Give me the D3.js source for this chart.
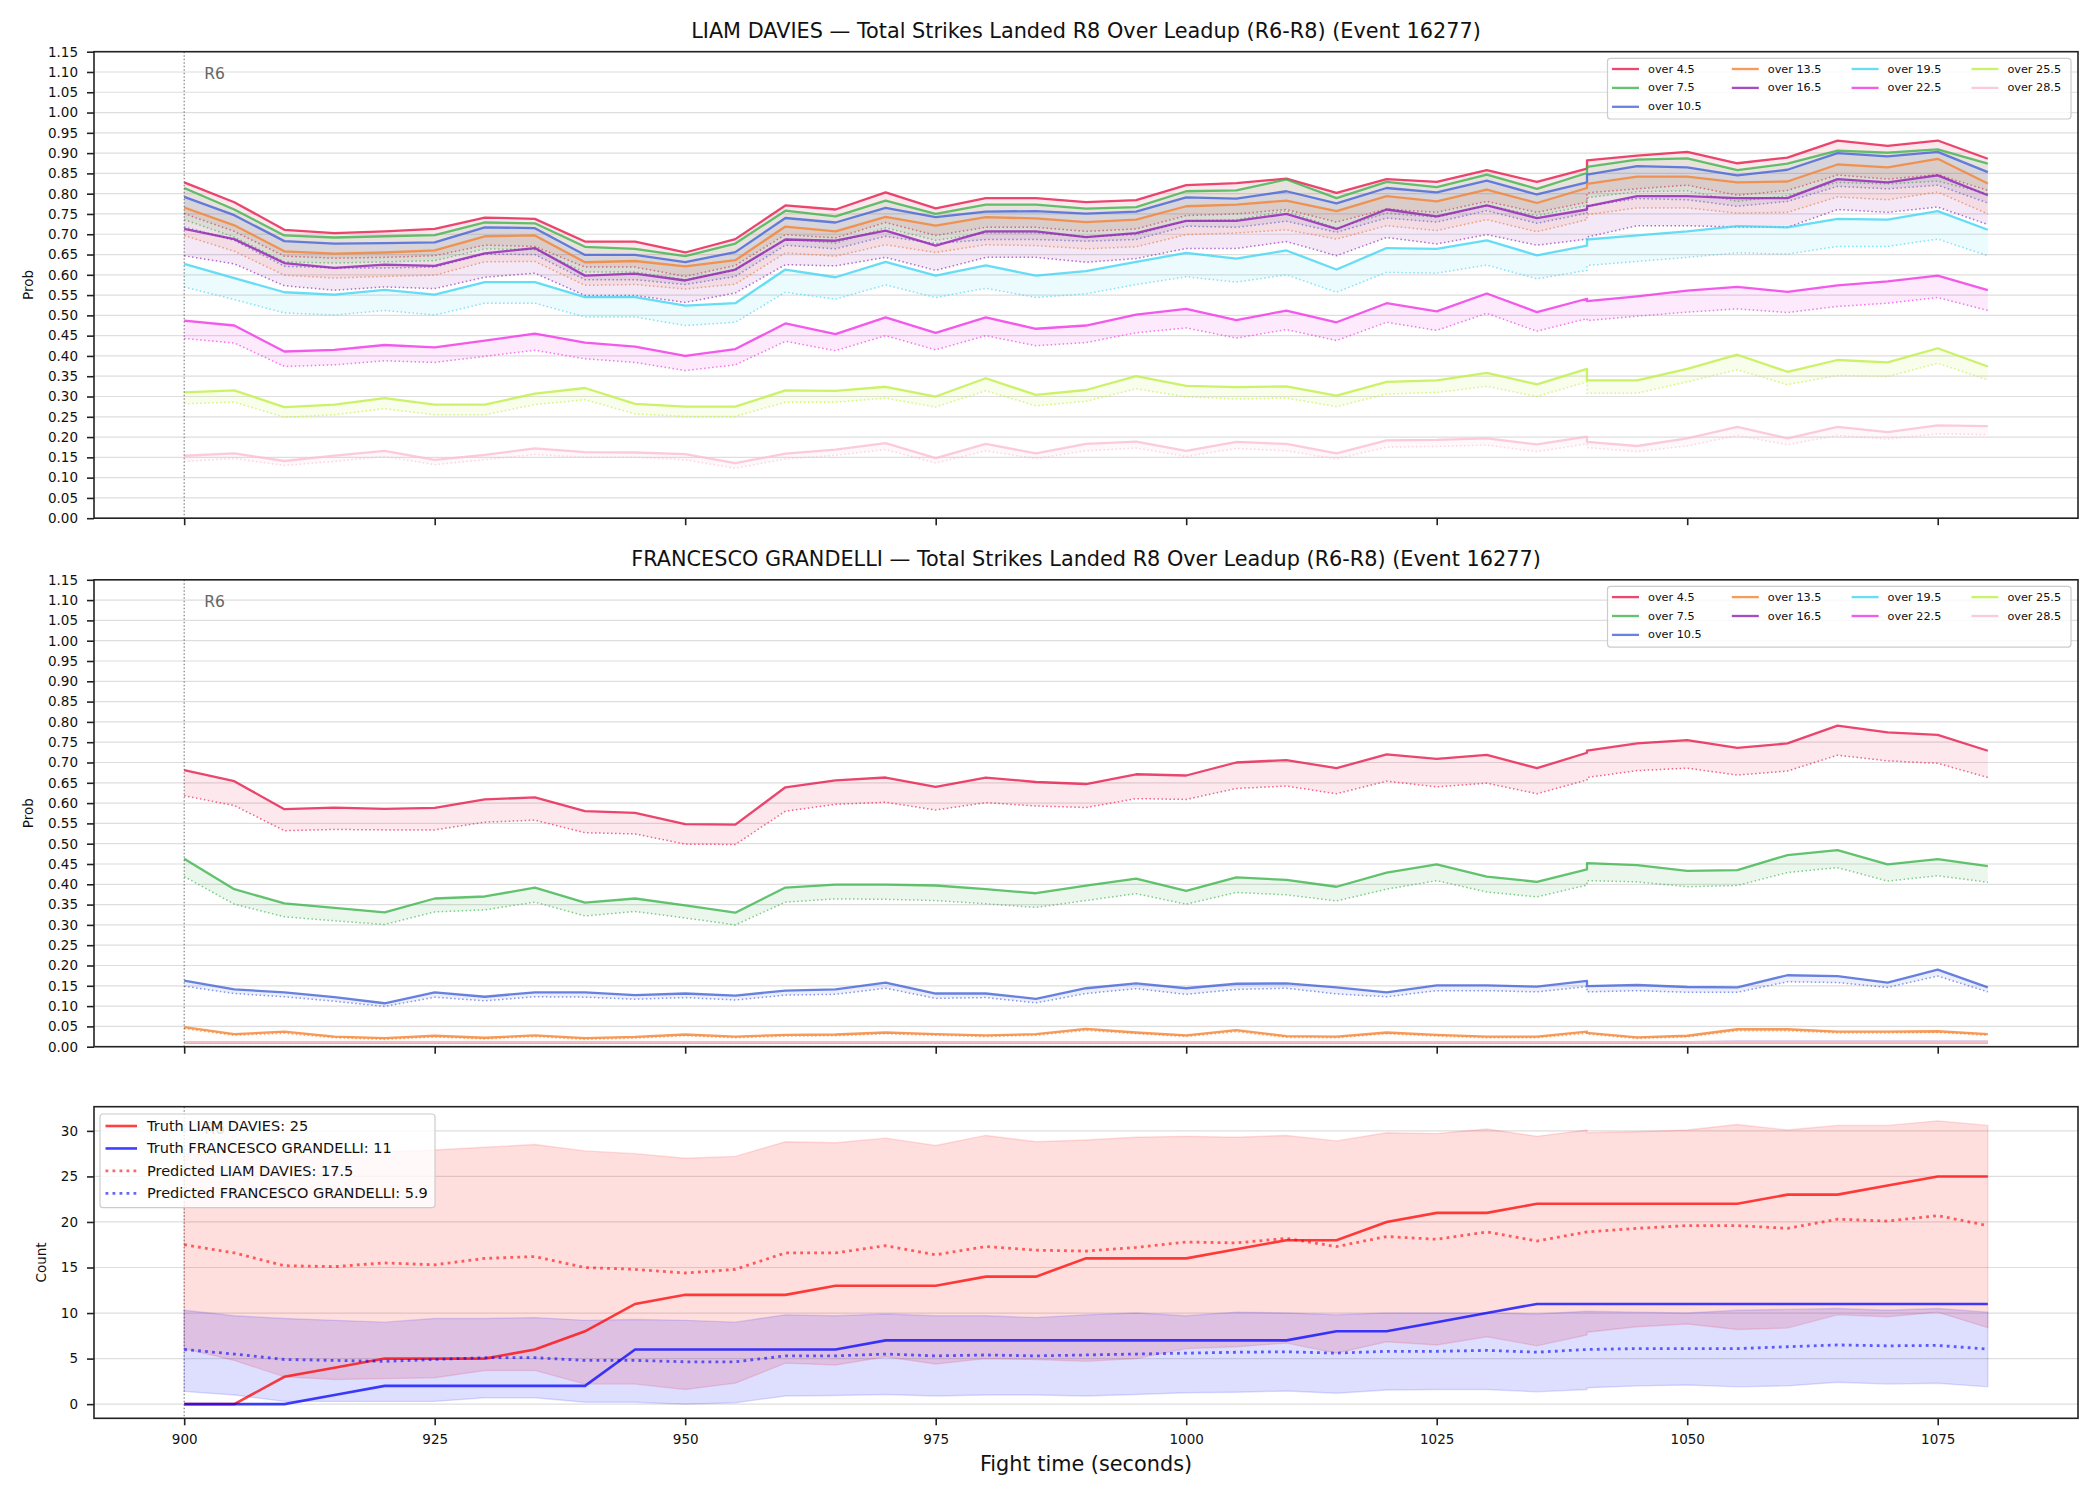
<!DOCTYPE html>
<html>
<head>
<meta charset="utf-8">
<script src="https://cdn.jsdelivr.net/npm/d3@7"></script>
<style>
  body { margin: 0; background: #fff; }
  text { font-family: "DejaVu Sans", sans-serif; }
</style>
</head>
<body>
<div id="chart"></div>
<script>
// Part 0: data
var times = [900,905,910,915,920,925,930,935,940,945,950,955,960,965,970,975,980,985,990,995,
  1000,1005,1010,1015,1020,1025,1030,1035,1040,1040,1045,1050,1055,1060,1065,1070,1075,1080];

var lineLabels = ["over 4.5","over 7.5","over 10.5","over 13.5","over 16.5","over 19.5","over 22.5","over 25.5","over 28.5"];
var lineColors = ["#e6194b","#3cb44b","#4363d8","#f58231","#911eb4","#42d4f4","#f032e6","#bfef45","#fabed4"];

var probTicks = d3.range(0, 24).map(function (i) { return i * 0.05; });
var timeTicks = [900, 925, 950, 975, 1000, 1025, 1050, 1075];
var countTicks = [0, 5, 10, 15, 20, 25, 30];

// LIAM DAVIES, solid lines
var daviesProb = [
  [.828,.779,.711,.703,.707,.713,.741,.738,.682,.682,.655,.688,.771,.761,.803,.764,.789,.789,.779,.784,.821,.826,.837,.802,.836,.829,.858,.829,.862,.882,.894,.903,.875,.889,.931,.918,.931,.886],
  [.814,.761,.697,.692,.695,.698,.729,.727,.669,.664,.646,.677,.758,.744,.783,.750,.773,.773,.763,.767,.806,.808,.835,.789,.829,.816,.847,.812,.851,.866,.884,.887,.858,.874,.906,.901,.909,.874],
  [.792,.747,.683,.677,.678,.680,.717,.715,.649,.649,.631,.656,.740,.729,.765,.742,.756,.757,.751,.756,.791,.788,.806,.776,.814,.803,.832,.798,.828,.847,.868,.865,.845,.859,.900,.892,.903,.853],
  [.766,.722,.658,.652,.655,.660,.695,.697,.631,.634,.621,.636,.719,.707,.743,.721,.742,.739,.730,.736,.769,.773,.783,.757,.794,.781,.810,.777,.814,.824,.842,.842,.828,.830,.872,.865,.886,.825],
  [.713,.688,.629,.617,.625,.622,.653,.666,.598,.603,.586,.613,.687,.684,.709,.672,.707,.707,.693,.703,.733,.733,.750,.713,.761,.744,.771,.740,.761,.769,.794,.794,.789,.789,.836,.828,.845,.796],
  [.627,.592,.557,.551,.563,.551,.582,.582,.545,.545,.524,.530,.613,.594,.632,.598,.623,.598,.609,.632,.654,.640,.660,.613,.666,.664,.685,.648,.672,.687,.697,.707,.720,.717,.738,.736,.757,.711],
  [.487,.475,.411,.415,.427,.421,.438,.455,.433,.423,.400,.417,.480,.454,.495,.457,.495,.467,.475,.502,.516,.488,.512,.483,.530,.510,.554,.508,.541,.535,.547,.561,.570,.558,.574,.584,.598,.562],
  [.310,.315,.274,.280,.296,.280,.280,.307,.321,.282,.275,.275,.315,.314,.324,.300,.345,.304,.316,.350,.326,.323,.325,.302,.336,.340,.358,.330,.368,.340,.340,.368,.403,.361,.390,.384,.419,.374],
  [.154,.160,.141,.154,.166,.144,.156,.172,.163,.162,.158,.136,.159,.169,.185,.148,.183,.160,.183,.189,.166,.188,.183,.160,.192,.193,.197,.182,.201,.188,.178,.197,.225,.197,.225,.212,.229,.227]
];
// LIAM DAVIES, dotted lines
var daviesLow = [
  [.751,.707,.646,.641,.643,.647,.673,.670,.619,.619,.596,.623,.699,.691,.729,.697,.717,.717,.707,.713,.746,.750,.761,.730,.762,.754,.781,.754,.779,.802,.812,.821,.796,.808,.846,.836,.847,.808],
  [.736,.693,.632,.629,.632,.635,.664,.662,.607,.607,.588,.611,.688,.678,.716,.685,.703,.703,.694,.699,.733,.736,.757,.715,.752,.742,.771,.746,.771,.790,.805,.807,.781,.795,.828,.824,.831,.800],
  [.718,.685,.621,.617,.617,.619,.651,.650,.588,.588,.576,.596,.673,.664,.695,.677,.687,.687,.683,.687,.720,.717,.732,.705,.740,.730,.758,.727,.752,.769,.788,.785,.769,.781,.818,.812,.821,.777],
  [.697,.658,.599,.592,.596,.599,.632,.633,.574,.576,.565,.577,.654,.646,.674,.655,.674,.672,.664,.669,.699,.703,.711,.688,.721,.709,.736,.706,.736,.748,.765,.765,.752,.754,.792,.785,.804,.750],
  [.647,.627,.573,.562,.570,.566,.594,.604,.549,.549,.532,.555,.625,.622,.643,.611,.643,.643,.631,.640,.665,.665,.682,.647,.692,.676,.699,.673,.688,.693,.721,.721,.718,.717,.761,.754,.767,.724],
  [.570,.539,.506,.501,.512,.501,.530,.530,.496,.496,.475,.483,.557,.540,.575,.544,.567,.544,.553,.576,.595,.582,.600,.557,.606,.604,.624,.590,.611,.623,.633,.643,.654,.651,.670,.670,.688,.647],
  [.443,.432,.374,.378,.388,.384,.399,.414,.393,.384,.364,.378,.436,.413,.450,.415,.450,.425,.433,.457,.469,.444,.465,.438,.483,.463,.505,.461,.492,.487,.498,.508,.516,.507,.522,.530,.544,.512],
  [.282,.286,.249,.255,.270,.255,.255,.280,.292,.257,.251,.251,.286,.286,.296,.274,.314,.277,.288,.319,.299,.294,.296,.275,.306,.310,.325,.300,.336,.308,.308,.336,.366,.329,.352,.349,.382,.341],
  [.140,.147,.130,.140,.152,.132,.144,.157,.150,.150,.144,.123,.146,.155,.169,.136,.166,.147,.166,.173,.152,.172,.166,.146,.175,.177,.180,.164,.183,.174,.164,.178,.204,.181,.204,.195,.208,.206]
];

// FRANCESCO GRANDELLI, solid lines
var grandelliProb = [
  [.681,.654,.585,.589,.586,.588,.609,.614,.580,.576,.548,.547,.639,.656,.663,.640,.663,.652,.647,.671,.668,.700,.706,.686,.720,.709,.719,.686,.724,.729,.747,.755,.736,.747,.791,.774,.768,.729],
  [.463,.388,.353,.342,.331,.365,.370,.392,.355,.365,.348,.330,.392,.399,.399,.397,.388,.378,.397,.414,.384,.417,.411,.394,.429,.449,.419,.406,.437,.452,.447,.433,.435,.472,.484,.449,.462,.445],
  [.163,.141,.134,.122,.107,.134,.123,.134,.134,.127,.131,.126,.138,.141,.158,.131,.131,.118,.144,.156,.144,.155,.156,.146,.134,.151,.151,.148,.162,.149,.152,.147,.146,.176,.174,.158,.190,.146],
  [.048,.031,.037,.025,.021,.027,.022,.028,.021,.024,.030,.025,.029,.030,.035,.031,.028,.031,.044,.035,.028,.041,.026,.025,.035,.029,.025,.025,.037,.034,.023,.027,.043,.043,.037,.037,.038,.031],
  [.011,.011,.011,.011,.011,.011,.011,.011,.011,.011,.011,.011,.011,.011,.011,.011,.011,.011,.011,.011,.011,.011,.011,.011,.011,.011,.011,.011,.011,.011,.011,.011,.012,.012,.012,.012,.012,.012],
  [.011,.011,.011,.011,.011,.011,.011,.011,.011,.011,.011,.011,.011,.011,.011,.011,.011,.011,.011,.011,.011,.011,.011,.011,.011,.011,.011,.011,.011,.011,.011,.011,.011,.011,.011,.011,.011,.011],
  [.011,.011,.011,.011,.011,.011,.011,.011,.011,.011,.011,.011,.011,.011,.011,.011,.011,.011,.011,.011,.011,.011,.011,.011,.011,.011,.011,.011,.011,.011,.011,.011,.011,.011,.011,.011,.011,.011],
  [.011,.011,.011,.011,.011,.011,.011,.011,.011,.011,.011,.011,.011,.011,.011,.011,.011,.011,.011,.011,.011,.011,.011,.011,.011,.011,.011,.011,.011,.011,.011,.011,.011,.011,.011,.011,.011,.011],
  [.011,.011,.011,.011,.011,.011,.011,.011,.011,.011,.011,.011,.011,.011,.011,.011,.011,.011,.011,.011,.011,.011,.011,.011,.011,.011,.011,.011,.011,.011,.011,.011,.011,.011,.011,.011,.011,.011]
];
// FRANCESCO GRANDELLI, dotted lines
var grandelliLow = [
  [.618,.594,.532,.535,.534,.534,.553,.558,.527,.524,.499,.498,.580,.597,.602,.583,.601,.593,.589,.611,.609,.636,.642,.623,.654,.640,.649,.623,.657,.663,.680,.686,.669,.679,.718,.704,.698,.663],
  [.419,.351,.320,.310,.301,.332,.337,.356,.322,.333,.317,.300,.356,.364,.363,.360,.352,.343,.360,.377,.351,.380,.374,.359,.388,.409,.381,.369,.398,.409,.406,.394,.397,.429,.441,.408,.421,.405],
  [.149,.131,.123,.112,.099,.122,.113,.123,.122,.117,.121,.115,.127,.129,.144,.119,.121,.108,.131,.143,.129,.141,.144,.130,.123,.138,.138,.135,.148,.135,.138,.134,.134,.160,.158,.146,.174,.135],
  [.044,.028,.033,.022,.018,.024,.019,.025,.018,.021,.027,.022,.026,.027,.032,.028,.025,.028,.040,.032,.025,.037,.023,.022,.032,.026,.022,.022,.033,.031,.020,.024,.039,.039,.034,.034,.035,.028],
  [.010,.010,.010,.010,.010,.010,.010,.010,.010,.010,.010,.010,.010,.010,.010,.010,.010,.010,.010,.010,.010,.010,.010,.010,.010,.010,.010,.010,.010,.010,.010,.010,.010,.010,.010,.010,.010,.010],
  [.010,.010,.010,.010,.010,.010,.010,.010,.010,.010,.010,.010,.010,.010,.010,.010,.010,.010,.010,.010,.010,.010,.010,.010,.010,.010,.010,.010,.010,.010,.010,.010,.010,.010,.010,.010,.010,.010],
  [.010,.010,.010,.010,.010,.010,.010,.010,.010,.010,.010,.010,.010,.010,.010,.010,.010,.010,.010,.010,.010,.010,.010,.010,.010,.010,.010,.010,.010,.010,.010,.010,.010,.010,.010,.010,.010,.010],
  [.010,.010,.010,.010,.010,.010,.010,.010,.010,.010,.010,.010,.010,.010,.010,.010,.010,.010,.010,.010,.010,.010,.010,.010,.010,.010,.010,.010,.010,.010,.010,.010,.010,.010,.010,.010,.010,.010],
  [.010,.010,.010,.010,.010,.010,.010,.010,.010,.010,.010,.010,.010,.010,.010,.010,.010,.010,.010,.010,.010,.010,.010,.010,.010,.010,.010,.010,.010,.010,.010,.010,.010,.010,.010,.010,.010,.010]
];

// bottom panel: counts
var truthDavies = [0,0,3,4,5,5,5,6,8,11,12,12,12,13,13,13,14,14,16,16,16,17,18,18,20,21,21,22,22,22,22,22,22,23,23,24,25,25];
var truthGrandelli = [0,0,0,1,2,2,2,2,2,6,6,6,6,6,7,7,7,7,7,7,7,7,7,8,8,9,10,11,11,11,11,11,11,11,11,11,11,11];
var predDavies = [17.5,16.6,15.2,15.1,15.5,15.3,16.0,16.2,15.0,14.8,14.4,14.8,16.6,16.6,17.4,16.4,17.3,16.9,16.8,17.2,17.8,17.7,18.2,17.3,18.4,18.1,18.9,17.9,18.9,18.9,19.3,19.6,19.6,19.3,20.3,20.1,20.7,19.6];
var predGrandelli = [6.0,5.5,4.9,4.8,4.7,4.9,5.1,5.1,4.8,4.8,4.65,4.65,5.3,5.3,5.5,5.3,5.4,5.3,5.4,5.5,5.6,5.7,5.75,5.6,5.8,5.8,5.9,5.7,6.0,6.0,6.1,6.1,6.1,6.3,6.5,6.4,6.45,6.05];
var daviesHigh = [27.5,27.4,27.3,27.5,27.7,27.9,28.2,28.5,27.8,27.5,27.0,27.2,28.8,28.7,29.2,28.4,29.5,28.8,29.0,29.3,29.4,29.3,29.5,28.9,29.8,29.7,30.2,29.4,30.1,29.8,29.9,30.1,30.7,30.1,30.6,30.6,31.1,30.6];
var daviesLowBand = [6.1,4.8,3.0,2.7,2.8,2.9,3.7,3.7,2.2,2.2,1.6,2.3,4.5,4.3,5.2,4.4,5.0,4.9,4.7,5.0,6.1,6.3,6.7,5.6,6.85,6.5,7.4,6.4,7.6,7.9,8.5,8.8,8.2,8.35,9.8,9.6,10.1,8.4];
var grandelliHigh = [10.3,9.7,9.4,9.2,9.0,9.4,9.4,9.5,9.2,9.3,9.2,9.0,9.8,9.7,9.9,9.7,9.7,9.5,9.8,10.0,9.7,10.1,10.0,9.8,10.0,10.0,10.0,9.9,10.2,10.2,10.1,10.0,10.3,10.4,10.5,10.3,10.5,10.1];
var grandelliLowBand = [1.4,1.0,0.3,0.3,0.3,0.3,0.7,0.7,0.2,0.2,0.0,0.15,0.9,0.95,1.05,0.9,1.0,1.0,0.9,1.05,1.25,1.3,1.45,1.2,1.55,1.6,1.6,1.35,1.6,1.8,2.0,2.1,1.9,2.0,2.4,2.2,2.3,1.9];

var countLabels = ["Truth LIAM DAVIES: 25", "Truth FRANCESCO GRANDELLI: 11",
  "Predicted LIAM DAVIES: 17.5", "Predicted FRANCESCO GRANDELLI: 5.9"];

// Part 1: canvas and shared x scale
var svgWidth = 2100;
var svgHeight = 1500;
var left = 94, right = 2078;
var fontFamily = "DejaVu Sans";

var svg = d3.select("#chart")
  .append("svg")
  .attr("width", svgWidth)
  .attr("height", svgHeight);

svg.append("rect").attr("width", svgWidth).attr("height", svgHeight).attr("fill", "#fff");

var xPad = (d3.max(times) - d3.min(times)) * 0.05;
var xScale = d3.scaleLinear()
  .domain([d3.min(times) - xPad, d3.max(times) + xPad])
  .range([left, right]);

function styleAxis(g, size) {
  g.select(".domain").remove();
  g.selectAll("line").attr("stroke", "#222").attr("stroke-width", 1.6);
  g.selectAll("text").attr("font-family", fontFamily).attr("font-size", size).attr("fill", "#111");
}

function grid(g, yScale, ticks) {
  g.selectAll(null)
    .data(ticks)
    .enter()
    .append("line")
    .attr("x1", left).attr("x2", right)
    .attr("y1", d => yScale(d)).attr("y2", d => yScale(d))
    .attr("stroke", "#dedede")
    .attr("stroke-width", 1.2);
}

function roundMarker(g, top, bottom) {
  g.append("line")
    .attr("x1", xScale(900)).attr("x2", xScale(900))
    .attr("y1", top).attr("y2", bottom)
    .attr("stroke", "#555")
    .attr("stroke-opacity", 0.8)
    .attr("stroke-width", 1.1)
    .attr("stroke-dasharray", "1.5,2");
  g.append("text")
    .attr("x", xScale(900) + 20)
    .attr("y", top + 22.5)
    .attr("dominant-baseline", "central")
    .attr("font-family", fontFamily)
    .attr("font-size", 15.5)
    .attr("fill", "#666")
    .text("R6");
}

function frame(g, top, bottom) {
  g.append("rect")
    .attr("x", left).attr("y", top)
    .attr("width", right - left).attr("height", bottom - top)
    .attr("fill", "none")
    .attr("stroke", "#222")
    .attr("stroke-width", 1.6);
}

// Part 2: the two probability panels
function probPanel(top, bottom, title, probs, lows) {
  var g = svg.append("g");
  var yScale = d3.scaleLinear().domain([0, 1.15]).range([bottom, top]);

  grid(g, yScale, probTicks);

  var line = d3.line().x((d, i) => xScale(times[i])).y(d => yScale(d));

  probs.forEach(function (vals, k) {
    var area = d3.area()
      .x((d, i) => xScale(times[i]))
      .y0((d, i) => yScale(lows[k][i]))
      .y1(d => yScale(d));
    g.append("path").datum(vals)
      .attr("d", area)
      .attr("fill", lineColors[k])
      .attr("fill-opacity", 0.1);
    g.append("path").datum(vals)
      .attr("d", line)
      .attr("fill", "none")
      .attr("stroke", lineColors[k])
      .attr("stroke-opacity", 0.8)
      .attr("stroke-width", 2.3)
      .attr("stroke-linejoin", "round");
    g.append("path").datum(lows[k])
      .attr("d", line)
      .attr("fill", "none")
      .attr("stroke", lineColors[k])
      .attr("stroke-opacity", 0.65)
      .attr("stroke-width", 1.5)
      .attr("stroke-dasharray", "1.5,2.5");
  });

  roundMarker(g, top, bottom);

  var leftAxis = d3.axisLeft(yScale).tickValues(probTicks)
    .tickFormat(d3.format(".2f")).tickSize(7).tickPadding(9);
  g.append("g").attr("transform", `translate(${left},0)`).call(leftAxis)
    .call(a => styleAxis(a, 13.5));

  var bottomAxis = d3.axisBottom(xScale).tickValues(timeTicks).tickFormat("").tickSize(7);
  g.append("g").attr("transform", `translate(0,${bottom})`).call(bottomAxis)
    .call(a => styleAxis(a, 13.5));

  frame(g, top, bottom);

  g.append("text")
    .attr("x", (left + right) / 2)
    .attr("y", top - 13.5)
    .attr("text-anchor", "middle")
    .attr("font-family", fontFamily)
    .attr("font-size", 20.8)
    .attr("fill", "#111")
    .text(title);

  g.append("text")
    .attr("transform", `translate(28,${(top + bottom) / 2}) rotate(-90)`)
    .attr("text-anchor", "middle")
    .attr("dominant-baseline", "central")
    .attr("font-family", fontFamily)
    .attr("font-size", 13.5)
    .attr("fill", "#111")
    .text("Prob");

  // legend, 4 columns filled column by column
  var lg = g.append("g");
  lg.append("rect")
    .attr("x", 1607.5).attr("y", top + 6.6)
    .attr("width", 463.5).attr("height", 60.7)
    .attr("rx", 3)
    .attr("fill", "#fff").attr("fill-opacity", 0.8)
    .attr("stroke", "#cccccc").attr("stroke-width", 1.2);
  var colOf = [0, 0, 0, 1, 1, 2, 2, 3, 3];
  var rowOf = [0, 1, 2, 0, 1, 0, 1, 0, 1];
  lineLabels.forEach(function (lab, k) {
    var cx = 1612 + colOf[k] * 119.8;
    var cy = top + 17.3 + rowOf[k] * 18.9;
    lg.append("line")
      .attr("x1", cx).attr("x2", cx + 27)
      .attr("y1", cy).attr("y2", cy)
      .attr("stroke", lineColors[k]).attr("stroke-opacity", 0.8)
      .attr("stroke-width", 2.3);
    lg.append("text")
      .attr("x", cx + 36).attr("y", cy)
      .attr("dominant-baseline", "central")
      .attr("font-family", fontFamily)
      .attr("font-size", 11.25)
      .attr("fill", "#111")
      .text(lab);
  });
}

probPanel(51.7, 518.2, "LIAM DAVIES \u2014 Total Strikes Landed R8 Over Leadup (R6-R8) (Event 16277)", daviesProb, daviesLow);
probPanel(579.8, 1046.7, "FRANCESCO GRANDELLI \u2014 Total Strikes Landed R8 Over Leadup (R6-R8) (Event 16277)", grandelliProb, grandelliLow);

// Part 3: the count panel
var cTop = 1106.7, cBottom = 1418.3;
var allCounts = [].concat(truthDavies, truthGrandelli, predDavies, predGrandelli,
  daviesHigh, daviesLowBand, grandelliHigh, grandelliLowBand);
var cMin = d3.min(allCounts), cMax = d3.max(allCounts);
var cPad = (cMax - cMin) * 0.05;
var yCount = d3.scaleLinear().domain([cMin - cPad, cMax + cPad]).range([cBottom, cTop]);

var cg = svg.append("g");
grid(cg, yCount, countTicks);

var band = function (lo, hi) {
  return d3.area().x((d, i) => xScale(times[i])).y0((d, i) => yCount(lo[i])).y1((d, i) => yCount(hi[i]));
};
var countLine = d3.line().x((d, i) => xScale(times[i])).y(d => yCount(d));

cg.append("path").datum(times).attr("d", band(daviesLowBand, daviesHigh))
  .attr("fill", "#ff0000").attr("fill-opacity", 0.13)
  .attr("stroke", "#ff0000").attr("stroke-opacity", 0.13).attr("stroke-width", 1.4);
cg.append("path").datum(times).attr("d", band(grandelliLowBand, grandelliHigh))
  .attr("fill", "#0000ff").attr("fill-opacity", 0.13)
  .attr("stroke", "#0000ff").attr("stroke-opacity", 0.13).attr("stroke-width", 1.4);

var countSeries = [
  { vals: truthDavies, color: "#ff0000", opacity: 0.75, dash: null },
  { vals: truthGrandelli, color: "#0000ff", opacity: 0.75, dash: null },
  { vals: predDavies, color: "#ff0000", opacity: 0.6, dash: "2.8,4.2" },
  { vals: predGrandelli, color: "#0000ff", opacity: 0.6, dash: "2.8,4.2" }
];
countSeries.forEach(function (s) {
  cg.append("path").datum(s.vals)
    .attr("d", countLine)
    .attr("fill", "none")
    .attr("stroke", s.color)
    .attr("stroke-opacity", s.opacity)
    .attr("stroke-width", s.dash ? 2.8 : 2.6)
    .attr("stroke-dasharray", s.dash);
});

roundMarker(cg, cTop, cBottom);

cg.append("g").attr("transform", `translate(${left},0)`)
  .call(d3.axisLeft(yCount).tickValues(countTicks).tickSize(7).tickPadding(9))
  .call(a => styleAxis(a, 13.5));
cg.append("g").attr("transform", `translate(0,${cBottom})`)
  .call(d3.axisBottom(xScale).tickValues(timeTicks).tickFormat(d3.format("d")).tickSize(7).tickPadding(9))
  .call(a => styleAxis(a, 13.5));

frame(cg, cTop, cBottom);

cg.append("text")
  .attr("transform", `translate(41,${(cTop + cBottom) / 2}) rotate(-90)`)
  .attr("text-anchor", "middle")
  .attr("dominant-baseline", "central")
  .attr("font-family", fontFamily)
  .attr("font-size", 13.5)
  .attr("fill", "#111")
  .text("Count");

cg.append("text")
  .attr("x", (left + right) / 2)
  .attr("y", 1464)
  .attr("text-anchor", "middle")
  .attr("dominant-baseline", "central")
  .attr("font-family", fontFamily)
  .attr("font-size", 20.8)
  .attr("fill", "#111")
  .text("Fight time (seconds)");

// count legend
var clg = cg.append("g");
clg.append("rect")
  .attr("x", 100).attr("y", 1114)
  .attr("width", 335).attr("height", 93.7)
  .attr("rx", 3)
  .attr("fill", "#fff").attr("fill-opacity", 0.8)
  .attr("stroke", "#cccccc").attr("stroke-width", 1.2);
countSeries.forEach(function (s, k) {
  var cy = 1126 + k * 22.45;
  clg.append("line")
    .attr("x1", 105.5).attr("x2", 137)
    .attr("y1", cy).attr("y2", cy)
    .attr("stroke", s.color).attr("stroke-opacity", s.opacity)
    .attr("stroke-width", s.dash ? 2.8 : 2.6)
    .attr("stroke-dasharray", s.dash);
  clg.append("text")
    .attr("x", 147).attr("y", cy)
    .attr("dominant-baseline", "central")
    .attr("font-family", fontFamily)
    .attr("font-size", 14.5)
    .attr("fill", "#111")
    .text(countLabels[k]);
});
</script>
</body>
</html>
